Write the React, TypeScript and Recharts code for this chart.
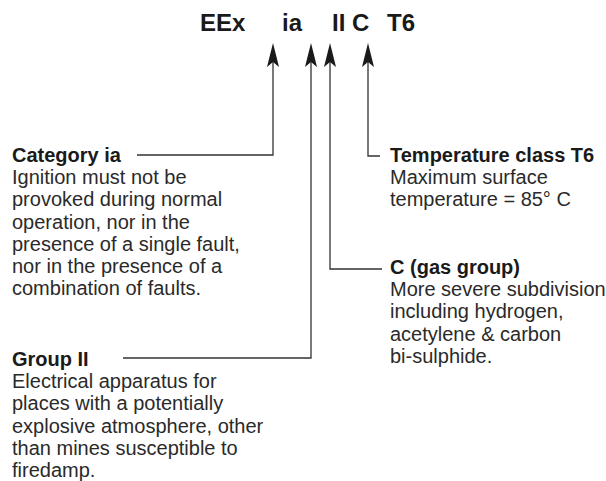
import { ComposedChart, XAxis, YAxis, Line, Scatter } from "recharts";

const W = 606;
const H = 481;

// the marking itself, split in its parts
const codeParts = ["EEx", "ia", "II", "C", "T6"];
const codeX = [200, 282, 332, 352, 387];
const codeBaseline = 31;

// explanation blocks
const categoryTitle = "Category ia";
const categoryLines = [
  "Ignition must not be",
  "provoked during normal",
  "operation, nor in the",
  "presence of a single fault,",
  "nor in the presence of a",
  "combination of faults.",
];
const groupTitle = "Group II";
const groupLines = [
  "Electrical apparatus for",
  "places with a potentially",
  "explosive atmosphere, other",
  "than mines susceptible to",
  "firedamp.",
];
const tempTitle = "Temperature class T6";
const tempLines = ["Maximum surface", "temperature = 85\u00b0 C"];
const gasTitle = "C (gas group)";
const gasLines = [
  "More severe subdivision",
  "including hydrogen,",
  "acetylene & carbon",
  "bi-sulphide.",
];

// leader lines (label end -> under arrow head)
const categoryPath = [{ x: 137, y: 155 }, { x: 273, y: 155 }, { x: 273, y: 62 }];
const groupPath = [{ x: 123, y: 358 }, { x: 311, y: 358 }, { x: 311, y: 62 }];
const gasPath = [{ x: 382, y: 269 }, { x: 330, y: 269 }, { x: 330, y: 62 }];
const tempPath = [{ x: 380, y: 156 }, { x: 368, y: 156 }, { x: 368, y: 62 }];

const arrowTips = [
  { x: 273, y: 43 },
  { x: 311, y: 43 },
  { x: 330, y: 43 },
  { x: 368, y: 43 },
];

const codeData = codeParts.map((t, i) => ({ x: codeX[i], y: codeBaseline, text: t }));

const blocks = [
  { x: 12, y: 162, title: categoryTitle, lines: categoryLines },
  { x: 12, y: 366, title: groupTitle, lines: groupLines },
  { x: 390, y: 162, title: tempTitle, lines: tempLines },
  { x: 390, y: 274, title: gasTitle, lines: gasLines },
];

const FONT = "'Liberation Sans', Arial, Helvetica, sans-serif";
const LINE_H = 22.2;

const ArrowHead = (props: any) => {
  const { cx, cy } = props;
  return (
    <path
      d={`M${cx},${cy} L${cx + 6},${cy + 24} L${cx},${cy + 19} L${cx - 6},${cy + 24} Z`}
      fill="#1a1a1a"
    />
  );
};

const CodeText = (props: any) => {
  const { cx, cy, payload } = props;
  return (
    <text x={cx} y={cy} fontFamily={FONT} fontWeight="bold" fontSize={24} fill="#1a1a1a">
      {payload.text}
    </text>
  );
};

const TextBlock = (props: any) => {
  const { cx, cy, payload } = props;
  return (
    <g fontFamily={FONT} fontSize={20}>
      <text x={cx} y={cy} fontWeight="bold" fill="#1a1a1a">
        {payload.title}
      </text>
      {payload.lines.map((l: string, i: number) => (
        <text key={i} x={cx} y={cy + LINE_H * (i + 1)} fill="#2a2a2a">
          {l}
        </text>
      ))}
    </g>
  );
};

export default function App() {
  const paths = [categoryPath, groupPath, gasPath, tempPath];
  return (
    <div style={{ position: "absolute", left: 0, top: 0, background: "#fff" }}>
      <ComposedChart width={W} height={H} margin={{ top: 0, right: 0, bottom: 0, left: 0 }}>
        <XAxis type="number" dataKey="x" domain={[0, W]} hide allowDataOverflow />
        <YAxis type="number" dataKey="y" domain={[0, H]} reversed hide allowDataOverflow width={0} />
        {paths.map((p, i) => (
          <Line
            key={i}
            data={p}
            dataKey="y"
            stroke="#333"
            strokeWidth={1.3}
            dot={false}
            activeDot={false}
            isAnimationActive={false}
          />
        ))}
        <Scatter data={arrowTips} shape={<ArrowHead />} isAnimationActive={false} />
        <Scatter data={codeData} shape={<CodeText />} isAnimationActive={false} />
        <Scatter data={blocks} shape={<TextBlock />} isAnimationActive={false} />
      </ComposedChart>
    </div>
  );
}
